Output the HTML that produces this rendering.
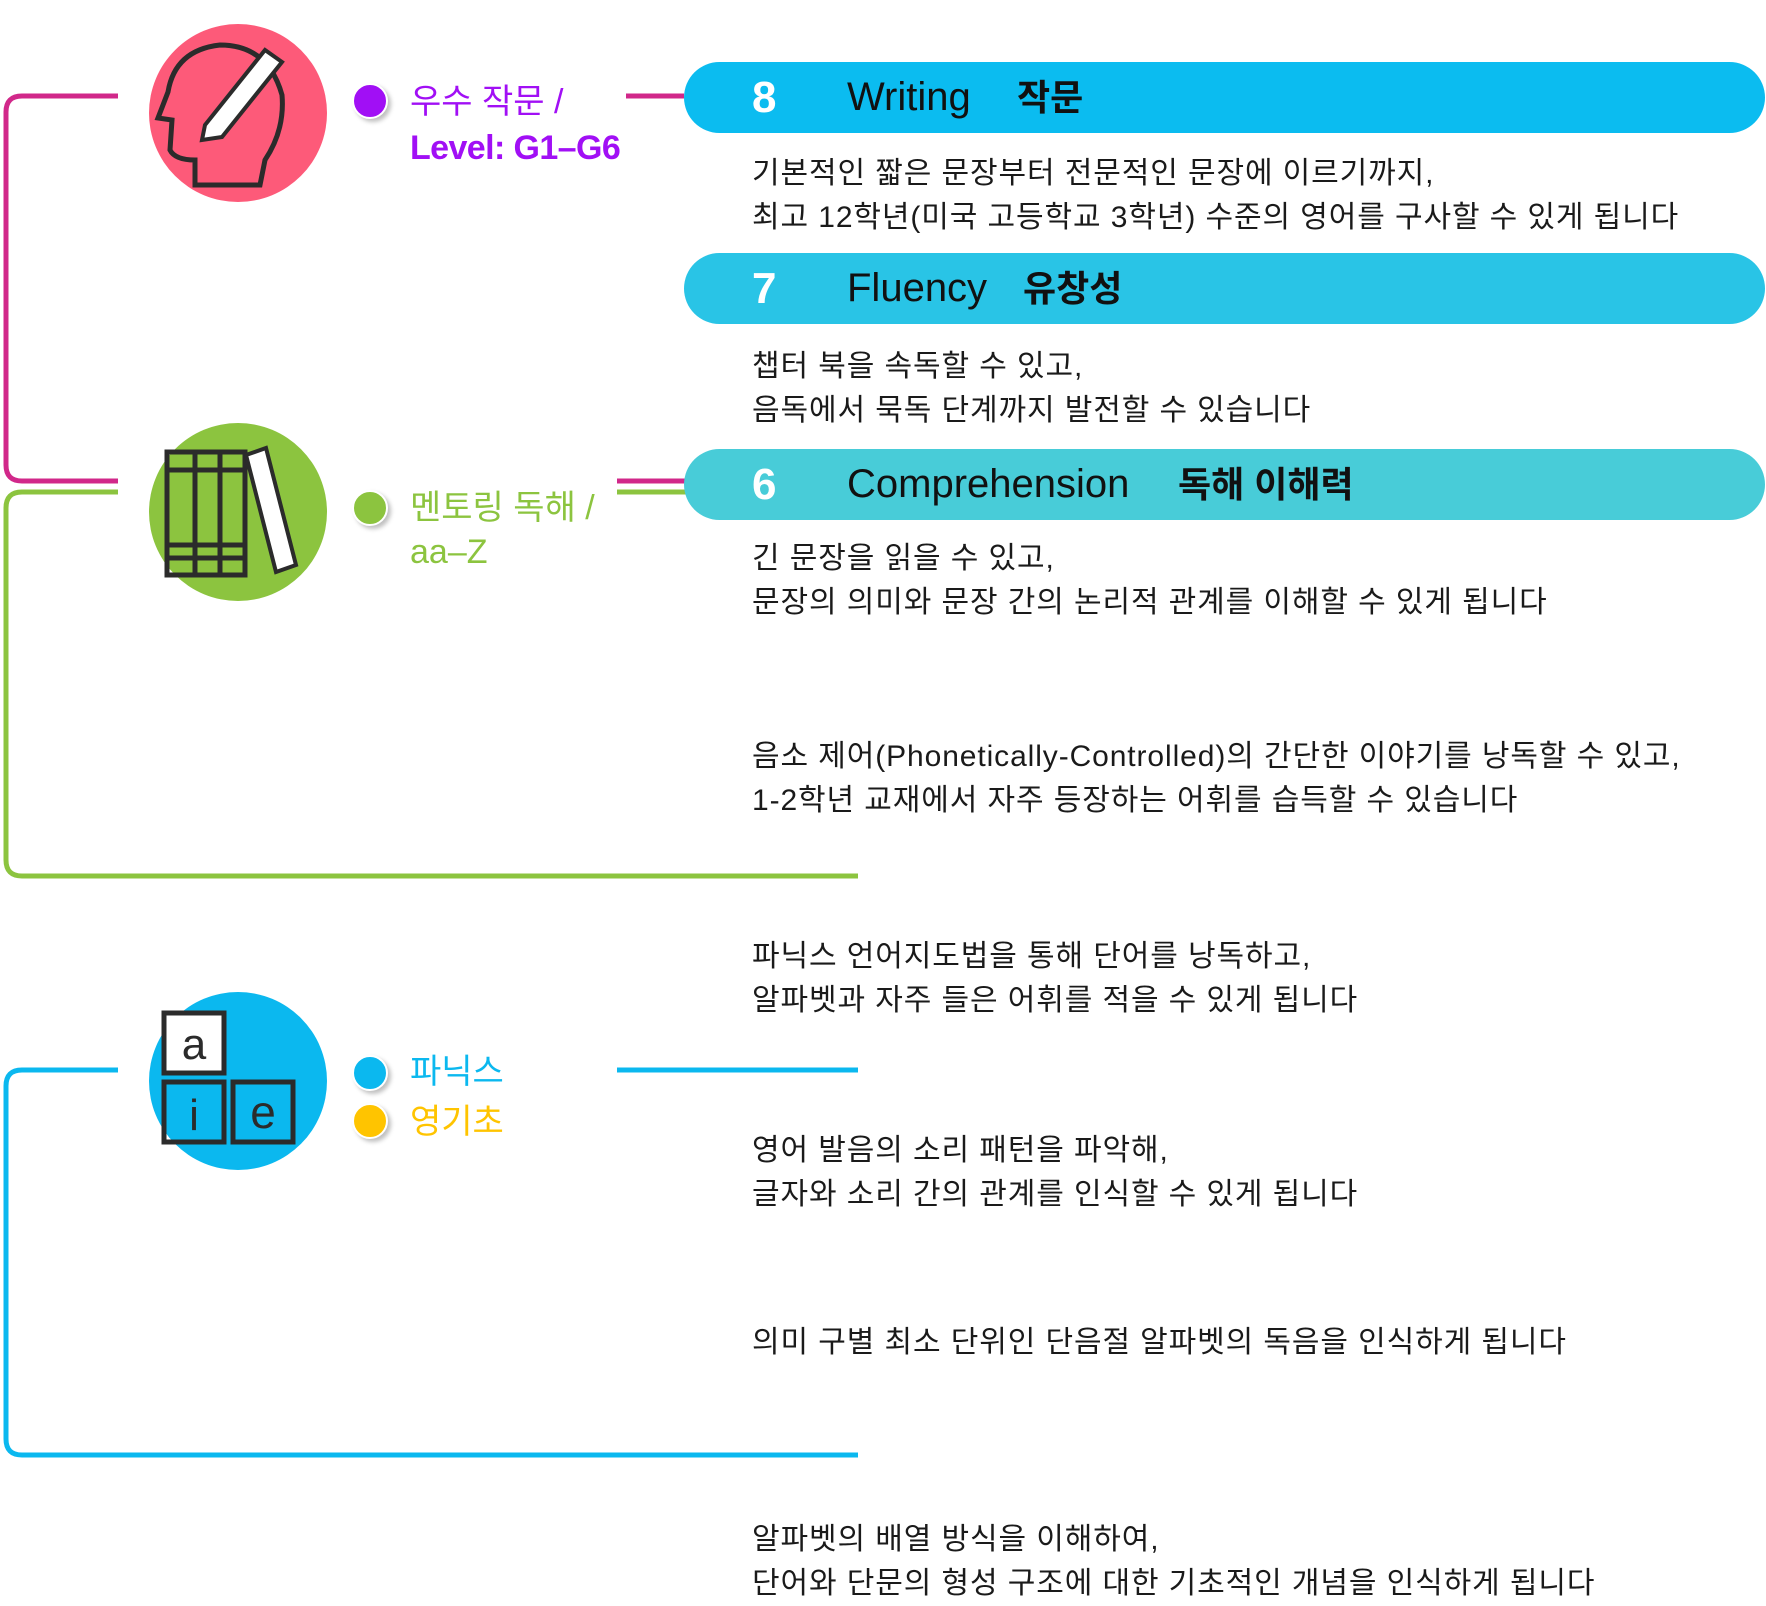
<!DOCTYPE html>
<html><head><meta charset="utf-8"><style>
body{margin:0;width:1766px;height:1598px;background:#fff;position:relative;overflow:hidden;font-family:"Liberation Sans","Noto Sans CJK KR",sans-serif}
.a{position:absolute}
.t{position:absolute;left:752px;font-size:30px;letter-spacing:0.9px;color:#1a1a1a;line-height:44px;white-space:nowrap}
.pill{position:absolute;left:684px;width:1081px;height:71px;border-radius:36px}
.pt{position:absolute;font-size:40px;color:#111;line-height:71px;white-space:nowrap}
.num{position:absolute;left:752px;font-size:44px;color:#fff;font-weight:bold;line-height:71px}
.dot{position:absolute;width:32px;height:32px;border-radius:50%;box-shadow:3px 3px 4px rgba(0,0,0,.25);border:2px solid #fff}
.lab{position:absolute;left:410px;font-size:34px;line-height:44px;white-space:nowrap}
</style></head><body>
<svg class="a" style="left:0;top:0" width="1766" height="1598">
<g fill="none" stroke-width="5">
<path d="M118 96 H22 Q6 96 6 112 V465 Q6 481 22 481 H118" stroke="#d1288a"/>
<path d="M626 96 H684" stroke="#d1288a"/>
<path d="M617 481 H690" stroke="#d1288a"/>
<path d="M118 492 H22 Q6 492 6 508 V860 Q6 876 22 876 H858" stroke="#8cc43f"/>
<path d="M617 492 H690" stroke="#8cc43f"/>
<path d="M118 1070 H22 Q6 1070 6 1086 V1439 Q6 1455 22 1455 H858" stroke="#0bb8ef"/>
<path d="M617 1070 H858" stroke="#0bb8ef"/>
</g>
<circle cx="238" cy="113" r="89" fill="#fd5a79"/>
<path d="M195 185 V160 Q175 160 170 150 L172 120 L158 118 L168 92 Q175 50 220 45 Q268 45 282 95 Q285 130 265 160 L260 185 Z" fill="none" stroke="#2b2b2b" stroke-width="5"/>
<path d="M205 125 L265 50 L282 62 L222 137 L202 140 Z" fill="#fff" stroke="#2b2b2b" stroke-width="4"/>
<circle cx="238" cy="512" r="89" fill="#8cc43f"/>
<g fill="none" stroke="#2b2b2b" stroke-width="5"><rect x="167" y="452" width="28" height="123"/><rect x="195" y="452" width="25" height="123"/><rect x="220" y="452" width="25" height="123"/><path d="M167 470 H245 M167 545 H245 M167 558 H245"/></g>
<path d="M246 455 L266 448 L296 565 L276 572 Z" fill="#fff" stroke="#2b2b2b" stroke-width="4"/>
<circle cx="238" cy="1081" r="89" fill="#0bb8ef"/>
<g fill="none" stroke="#2b2b2b" stroke-width="5"><rect x="164" y="1013" width="60" height="60" fill="#fff"/><rect x="164" y="1082" width="60" height="60"/><rect x="233" y="1082" width="60" height="60"/></g>
<text x="194" y="1059" font-size="44" text-anchor="middle" fill="#2b2b2b" font-family="Liberation Sans">a</text>
<text x="194" y="1130" font-size="44" text-anchor="middle" fill="#2b2b2b" font-family="Liberation Sans">i</text>
<text x="263" y="1128" font-size="46" text-anchor="middle" fill="#2b2b2b" font-family="Liberation Sans">e</text>
</svg>

<div class="dot" style="left:352px;top:83px;background:#a10ff5"></div>
<div class="lab" style="top:80px;color:#a10ff5">우수 작문 /</div>
<div class="lab" style="top:126px;color:#a10ff5;font-weight:bold;letter-spacing:-0.6px">Level: G1–G6</div>
<div class="dot" style="left:352px;top:490px;background:#8cc43f"></div>
<div class="lab" style="top:486px;color:#8cc43f">멘토링 독해 /</div>
<div class="lab" style="top:530px;color:#8cc43f">aa–Z</div>
<div class="dot" style="left:352px;top:1055px;background:#0bb8ef"></div>
<div class="lab" style="top:1050px;color:#0bb8ef">파닉스</div>
<div class="dot" style="left:352px;top:1103px;background:#ffc400"></div>
<div class="lab" style="top:1100px;color:#ffc400">영기초</div>

<div class="pill" style="top:62px;background:#0bbcf0"><div class="num" style="left:68px">8</div><div class="pt" style="left:163px">Writing</div><div class="pt" style="left:333px;font-weight:bold;font-size:36px">작문</div></div>
<div class="pill" style="top:253px;background:#29c4e6"><div class="num" style="left:68px">7</div><div class="pt" style="left:163px">Fluency</div><div class="pt" style="left:339px;font-weight:bold;font-size:36px">유창성</div></div>
<div class="pill" style="top:449px;background:#48ccd8"><div class="num" style="left:68px">6</div><div class="pt" style="left:163px">Comprehension</div><div class="pt" style="left:494px;font-weight:bold;font-size:36px">독해 이해력</div></div>

<div class="t" style="top:152px">기본적인 짧은 문장부터 전문적인 문장에 이르기까지,<br>최고 12학년(미국 고등학교 3학년) 수준의 영어를 구사할 수 있게 됩니다</div>
<div class="t" style="top:345px">챕터 북을 속독할 수 있고,<br>음독에서 묵독 단계까지 발전할 수 있습니다</div>
<div class="t" style="top:537px">긴 문장을 읽을 수 있고,<br>문장의 의미와 문장 간의 논리적 관계를 이해할 수 있게 됩니다</div>
<div class="t" style="top:735px">음소 제어(Phonetically-Controlled)의 간단한 이야기를 낭독할 수 있고,<br>1-2학년 교재에서 자주 등장하는 어휘를 습득할 수 있습니다</div>
<div class="t" style="top:935px">파닉스 언어지도법을 통해 단어를 낭독하고,<br>알파벳과 자주 들은 어휘를 적을 수 있게 됩니다</div>
<div class="t" style="top:1129px">영어 발음의 소리 패턴을 파악해,<br>글자와 소리 간의 관계를 인식할 수 있게 됩니다</div>
<div class="t" style="top:1321px">의미 구별 최소 단위인 단음절 알파벳의 독음을 인식하게 됩니다</div>
<div class="t" style="top:1518px">알파벳의 배열 방식을 이해하여,<br>단어와 단문의 형성 구조에 대한 기초적인 개념을 인식하게 됩니다</div>
</body></html>
